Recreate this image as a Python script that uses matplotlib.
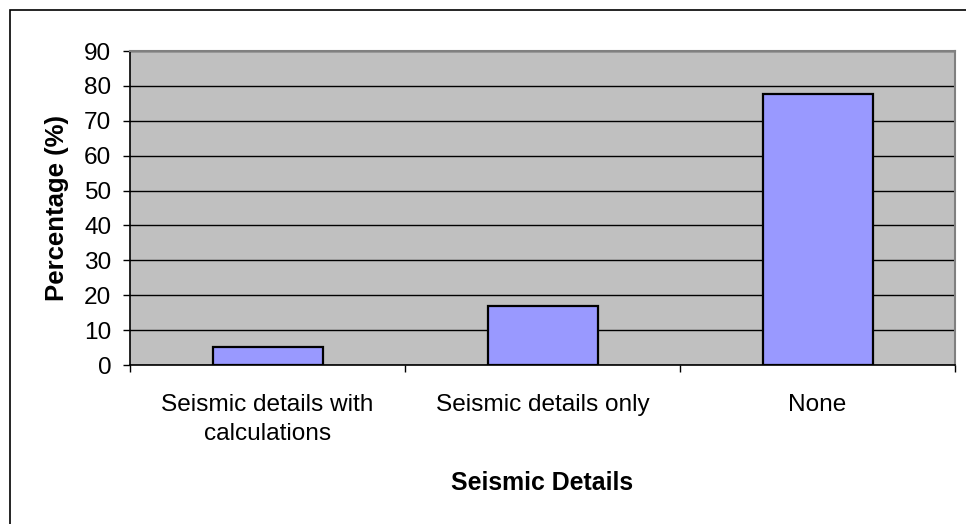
import matplotlib.pyplot as plt
from matplotlib.patches import Rectangle

categories = ['Seismic details with\ncalculations', 'Seismic details only', 'None']
percentages = [5.3, 17.0, 77.7]
yticks = [0, 10, 20, 30, 40, 50, 60, 70, 80, 90]

plt.rcParams['font.family'] = ['Liberation Sans', 'DejaVu Sans']

W, H = 966, 524
fig = plt.figure(figsize=(W / 100, H / 100), dpi=100)
ax = fig.add_axes([130 / W, (H - 365) / H, 825 / W, 314 / H])

# chart area frame (top and left edges visible)
fig.patches.append(Rectangle((10 / W, -0.1), 1.2, (H - 10) / H + 0.1,
                             transform=fig.transFigure, fill=False,
                             edgecolor='black', linewidth=1.2))

ax.set_facecolor('#C0C0C0')
x = range(len(categories))
ax.bar(x, percentages, width=0.4, color='#9999FF', edgecolor='black',
       linewidth=1.6, zorder=3)

ax.set_xlim(-0.5, len(categories) - 0.5)
ax.set_ylim(0, 90)
ax.set_yticks(yticks)
ax.yaxis.grid(True, color='black', linewidth=1.0, zorder=1)
ax.set_axisbelow(True)

ax.set_xticks(list(x))
ax.set_xticklabels(categories, fontsize=17.6, linespacing=1.38)
ax.set_xticks([i - 0.5 for i in range(len(categories) + 1)], minor=True)
ax.tick_params(axis='x', which='major', length=0, pad=21)
ax.tick_params(axis='x', which='minor', length=5, width=1, direction='out')
ax.tick_params(axis='y', length=5, width=1, pad=8.5, labelsize=17.6)

for side in ['top', 'right']:
    ax.spines[side].set_color('#808080')
    ax.spines[side].set_linewidth(1.5)
for side in ['left', 'bottom']:
    ax.spines[side].set_color('black')
    ax.spines[side].set_linewidth(1.2)

ax.set_ylabel('Percentage (%)', fontsize=18.5, fontweight='bold', va='center')
ax.yaxis.set_label_coords(-0.0885, 0.5)
ax.set_xlabel('Seismic Details', fontsize=17.9, fontweight='bold', va='center')
ax.xaxis.set_label_coords(0.5, -0.376)

fig.savefig('out.png', dpi=100)
